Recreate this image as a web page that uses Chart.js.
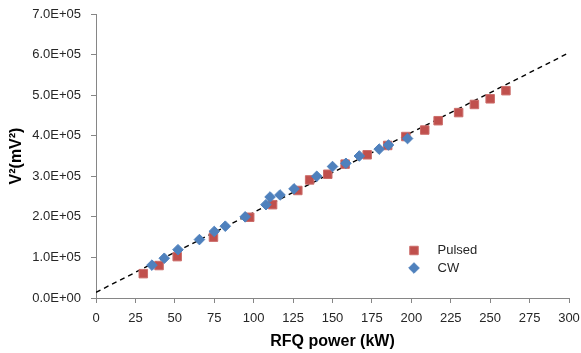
<!DOCTYPE html>
<html>
<head>
<meta charset="utf-8">
<script src="https://cdn.jsdelivr.net/npm/chart.js@4.4.1/dist/chart.umd.min.js"></script>
<style>
  html, body { margin: 0; padding: 0; background: #ffffff; }
  #wrap { width: 581px; height: 353px; }
</style>
</head>
<body>
<div id="wrap"><canvas id="c" width="581" height="353"></canvas></div>
<script>
// ---- data ----
const pulsedX = [30, 40, 51.5, 74.5, 97.5, 112, 128, 135.5, 147, 158, 172, 185, 196.5, 208.5, 217, 230, 240, 250, 260];
const pulsedY = [60000, 80000, 102000, 150000, 199000, 230000, 265000, 291000, 305000, 330000, 353000, 376000, 398000, 414000, 437000, 457000, 477000, 491000, 511000];
const cwX = [35.5, 43.3, 52, 65.6, 75, 82, 94.6, 107.8, 110.4, 116.7, 125.6, 140, 150, 158.5, 167, 179.6, 185.5, 197.6];
const cwY = [81000, 98000, 119000, 144000, 164000, 177000, 200000, 230000, 249000, 254000, 269000, 300000, 324000, 332000, 350000, 367000, 377000, 393000];
// dashed linear trendline (end points)
const trendX = [0, 300];
const trendY = [14000, 604500];
const seriesNames = ["Pulsed", "CW"];
const xTitle = "RFQ power (kW)";
const yTitle = "V\u00b2(mV\u00b2)";

const toPts = (xs, ys) => xs.map((x, i) => ({ x: x, y: ys[i] }));

function sci(v) {
  if (v === 0) return "0.0E+00";
  const e = Math.floor(Math.log10(Math.abs(v)) + 1e-9);
  const m = v / Math.pow(10, e);
  const es = (e < 0 ? "-" : "+") + String(Math.abs(e)).padStart(2, "0");
  return m.toFixed(1) + "E" + es;
}

const FONT = "'Liberation Sans', Arial, sans-serif";
const AXIS = "#868686";
const RED = "#C0504D";
const BLUE = "#4F81BD";

function noScalePadding(s) {
  s.paddingLeft = 0; s.paddingRight = 0; s.paddingTop = 0; s.paddingBottom = 0;
}

const legendPlugin = {
  id: "insideLegend",
  afterDatasetsDraw(chart) {
    const ctx = chart.ctx;
    const items = [
      { ds: chart.data.datasets[0], y: 250.5 },
      { ds: chart.data.datasets[1], y: 268 }
    ];
    ctx.save();
    items.forEach(it => {
      ctx.fillStyle = it.ds.backgroundColor;
      ctx.strokeStyle = it.ds.borderColor;
      ctx.lineWidth = it.ds.borderWidth;
      ctx.beginPath();
      const r = it.ds.pointRadius;
      if (it.ds.pointStyle === "rect") {
        const s = Math.SQRT1_2 * r;
        ctx.rect(414 - s, it.y - s, 2 * s, 2 * s);
      } else {
        ctx.moveTo(414 - r, it.y);
        ctx.lineTo(414, it.y - r);
        ctx.lineTo(414 + r, it.y);
        ctx.lineTo(414, it.y + r);
        ctx.closePath();
      }
      ctx.fill();
      if (it.ds.borderWidth) ctx.stroke();
      ctx.fillStyle = "#262626";
      ctx.font = "13px " + FONT;
      ctx.textAlign = "left";
      ctx.textBaseline = "middle";
      ctx.fillText(it.ds.label, 437.5, it.y);
    });
    ctx.restore();
  }
};

new Chart(document.getElementById("c"), {
  type: "scatter",
  data: {
    datasets: [
      {
        label: seriesNames[0],
        data: toPts(pulsedX, pulsedY),
        pointStyle: "rect",
        pointRadius: 6,
        pointHoverRadius: 6,
        backgroundColor: RED,
        borderColor: "#cc6d6a",
        borderWidth: 1,
        order: 2
      },
      {
        label: seriesNames[1],
        data: toPts(cwX, cwY),
        pointStyle: "rectRot",
        pointRadius: 5.3,
        pointHoverRadius: 5.3,
        backgroundColor: BLUE,
        borderColor: BLUE,
        borderWidth: 1,
        order: 1
      },
      {
        label: "trend",
        type: "line",
        data: toPts(trendX, trendY),
        borderColor: "#000000",
        borderWidth: 1.4,
        borderDash: [5, 4],
        pointRadius: 0,
        fill: false,
        order: 3
      }
    ]
  },
  options: {
    responsive: false,
    animation: false,
    devicePixelRatio: 1,
    layout: { padding: { top: 14, right: 12, left: 0, bottom: 0 } },
    plugins: {
      legend: { display: false },
      tooltip: { enabled: false }
    },
    scales: {
      x: {
        type: "linear",
        min: 0,
        max: 300,
        afterFit: s => { s.height = 55; noScalePadding(s); },
        ticks: {
          stepSize: 25,
          padding: 8,
          color: "#262626",
          font: { family: FONT, size: 13 },
          maxRotation: 0
        },
        grid: {
          drawOnChartArea: false,
          drawTicks: true,
          tickLength: 5,
          tickColor: AXIS,
          color: AXIS
        },
        border: { color: AXIS, width: 1 },
        title: {
          display: true,
          text: xTitle,
          color: "#000000",
          font: { family: FONT, size: 16, weight: "bold" },
          padding: { top: 0, bottom: 2 }
        }
      },
      y: {
        type: "linear",
        min: 0,
        max: 700000,
        afterFit: s => { s.width = 96; noScalePadding(s); },
        ticks: {
          stepSize: 100000,
          padding: 10,
          color: "#262626",
          font: { family: FONT, size: 13 },
          callback: v => sci(v)
        },
        grid: {
          drawOnChartArea: false,
          drawTicks: true,
          tickLength: 5,
          tickColor: AXIS,
          color: AXIS
        },
        border: { color: AXIS, width: 1 },
        title: {
          display: true,
          text: yTitle,
          color: "#000000",
          font: { family: FONT, size: 16, weight: "bold" },
          padding: { top: 7, bottom: 0 }
        }
      }
    }
  },
  plugins: [legendPlugin]
});
</script>
</body>
</html>
